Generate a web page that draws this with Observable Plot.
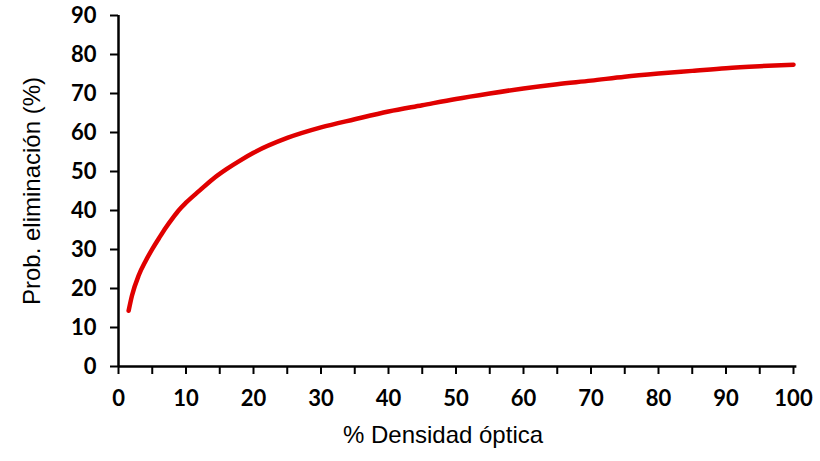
<!DOCTYPE html>
<html>
<head>
<meta charset="utf-8">
<script src="https://cdn.jsdelivr.net/npm/d3@7"></script>
<script src="https://cdn.jsdelivr.net/npm/@observablehq/plot@0.6"></script>
<style>
  html, body { margin: 0; padding: 0; background: #fff; }
  #chart { width: 820px; height: 461px; }
</style>
</head>
<body>
<div id="chart"></div>
<script>
// Data
const densidad = [1.5, 2, 3, 4, 5, 6, 7, 8, 9, 10, 12, 14, 16, 18, 20, 25, 30, 35, 40, 45, 50, 55, 60, 65, 70, 75, 80, 85, 90, 95, 100];
const probEliminacion = [14.3, 18.2, 23.4, 27.0, 30.1, 32.9, 35.6, 38.0, 40.2, 42.0, 45.1, 48.1, 50.6, 52.8, 54.8, 58.6, 61.3, 63.4, 65.4, 67.0, 68.6, 70.0, 71.3, 72.4, 73.3, 74.3, 75.1, 75.8, 76.5, 77.0, 77.4];
const xTicks = [0, 5, 10, 15, 20, 25, 30, 35, 40, 45, 50, 55, 60, 65, 70, 75, 80, 85, 90, 95, 100];
const yTicks = [0, 10, 20, 30, 40, 50, 60, 70, 80, 90];
const xTitle = "% Densidad óptica";
const yTitle = "Prob. eliminación (%)";

const data = densidad.map((x, i) => ({x, y: probEliminacion[i]}));

const chart = Plot.plot({
  width: 820,
  height: 461,
  marginLeft: 118,
  marginRight: 27,
  marginTop: 15,
  marginBottom: 95,
  style: {fontFamily: "Lato, sans-serif", color: "#000", background: "#fff"},
  x: {domain: [0, 100]},
  y: {domain: [0, 90]},
  marks: [
    Plot.axisX({ticks: xTicks, tickSize: 8, tickPadding: 16, strokeWidth: 2,
      tickFormat: d => d % 10 === 0 ? String(d) : "",
      fontSize: 22, fontWeight: "bold", label: null}),
    Plot.axisY({ticks: yTicks, tickSize: 8, tickPadding: 14, strokeWidth: 2,
      fontSize: 22, fontWeight: "bold", label: null}),
    Plot.ruleX([0], {y1: 0, y2: 90, stroke: "#000", strokeWidth: 2.5}),
    Plot.ruleY([0], {x1: 0, x2: 100.5, stroke: "#000", strokeWidth: 2.5}),
    Plot.line(data, {x: "x", y: "y", stroke: "#e00000", strokeWidth: 4.5, curve: "monotone-x", strokeLinecap: "round"}),
    Plot.text([xTitle], {frameAnchor: "bottom", textAnchor: "middle", lineAnchor: "bottom", dy: 76, dx: -13,
      fontFamily: "Liberation Sans, Arial, sans-serif", fontSize: 24, fill: "#000"}),
    Plot.text([yTitle], {frameAnchor: "left", textAnchor: "middle", lineAnchor: "middle", rotate: -90, dx: -86,
      fontFamily: "Liberation Sans, Arial, sans-serif", fontSize: 24, fill: "#000"})
  ]
});
document.getElementById("chart").appendChild(chart);
</script>
</body>
</html>
